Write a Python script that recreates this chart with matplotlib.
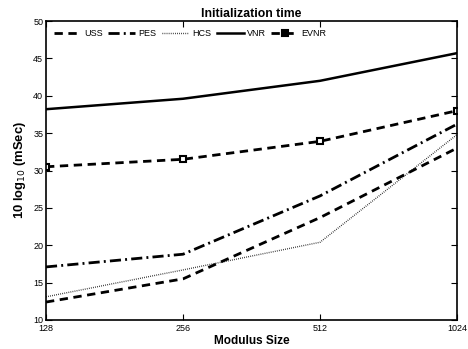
import matplotlib
matplotlib.use("Agg")
import matplotlib.pyplot as plt

plt.rcParams['font.family'] = ['Liberation Sans', 'DejaVu Sans']

modulus = [128, 256, 512, 1024]
uss = [12.4, 15.5, 23.7, 33.0]
pes = [17.1, 18.8, 26.6, 36.2]
hcs = [13.1, 16.7, 20.4, 34.8]
vnr = [38.2, 39.6, 42.0, 45.7]
evnr = [30.5, 31.5, 33.9, 38.0]

fig = plt.figure(figsize=(4.68, 3.49), dpi=100)
ax = fig.add_axes([0.0983, 0.0831, 0.8782, 0.8567])

ax.plot(modulus, uss, color='black', linestyle=(0, (3, 2)), linewidth=2.0, label='USS')
ax.plot(modulus, pes, color='black', linestyle=(0, (4, 1.5, 0.7, 1.5)), linewidth=2.0, label='PES')
ax.plot(modulus, hcs, color='black', linestyle=(0, (0.5, 1)), linewidth=1.0, label='HCS')
ax.plot(modulus, vnr, color='black', linestyle='-', linewidth=1.8, label='VNR')
ax.plot(modulus, evnr, color='black', linestyle=(0, (3, 2)), linewidth=2.0, marker='s',
        markersize=5, markerfacecolor='white', markeredgecolor='black', markeredgewidth=1.5,
        label='EVNR')

ax.set_xscale('log', base=2)
ax.set_xlim(128, 1024)
ax.set_ylim(10, 50)
ax.set_xticks(modulus)
ax.set_xticklabels([str(m) for m in modulus])
ax.minorticks_off()
ax.set_yticks(range(10, 51, 5))
ax.tick_params(direction='in', labelsize=6.5, length=4, width=0.8, top=True, right=True, pad=2)
ax.tick_params(axis='x', pad=3)
for s in ax.spines.values():
    s.set_linewidth(1.2)

ax.set_xlabel('Modulus Size', fontsize=8.5, fontweight='bold', labelpad=1)
ax.set_ylabel(r'10 log$_{10}$ (mSec)', fontsize=9.4, fontweight='bold', labelpad=4)
ax.set_title('Initialization time', fontsize=8.8, fontweight='bold', pad=3)

leg = ax.legend(loc='upper left', ncol=5, frameon=False, fontsize=6.5, handlelength=3.0,
                columnspacing=0.65, handletextpad=0.3, borderaxespad=0.5,
                bbox_to_anchor=(0.0, 1.0))
for h in leg.legend_handles:
    try:
        h.set_markerfacecolor('black')
    except Exception:
        pass

fig.savefig('out.png', dpi=100)
